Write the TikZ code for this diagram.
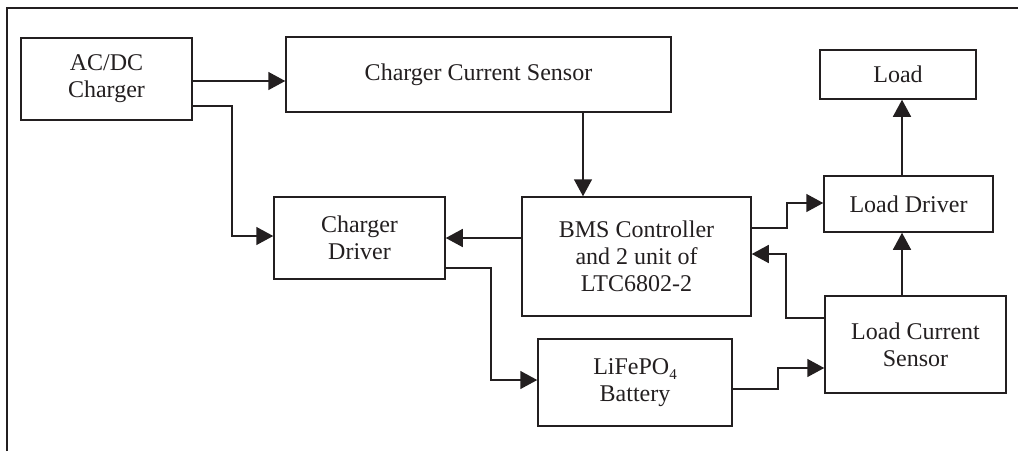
\documentclass[tikz,border=0pt]{standalone}
\usepackage{fontspec}
\setmainfont{Liberation Serif}
\usetikzlibrary{arrows.meta}
\definecolor{ink}{HTML}{231F20}
\tikzset{
  box/.style={draw=ink, line width=1.5pt, align=center, inner sep=0pt,
    font=\fontsize{24}{27}\selectfont, text=ink},
  arr/.style={draw=ink, line width=1.5pt, -{Triangle[length=17pt,width=18pt]}},
}
\begin{document}
\begin{tikzpicture}[x=1pt,y=-1pt]
\useasboundingbox (0,0) rectangle (1018,451);
\draw[ink, line width=1.8pt] (7,451) -- (7,8) -- (1018,8);
\node[box, minimum width=171pt, minimum height=82pt] (acdc) at (106.5,79) {AC/DC\\Charger};
\node[box, minimum width=385pt, minimum height=75pt] (ccs) at (478.5,74.5) {Charger Current Sensor};
\node[box, minimum width=156pt, minimum height=49pt] (load) at (898,74.5) {Load};
\node[box, minimum width=171pt, minimum height=82pt] (cd) at (359.5,238) {Charger\\Driver};
\node[box, minimum width=229pt, minimum height=119pt] (bms) at (636.5,256.5) {BMS Controller\\and 2 unit of\\LTC6802-2};
\node[box, minimum width=169pt, minimum height=56pt] (ld) at (908.5,204) {Load Driver};
\node[box, minimum width=194pt, minimum height=87pt] (bat) at (635,382.5) {LiFePO\raisebox{-5pt}{\fontsize{15}{15}\selectfont 4}\\Battery};
\node[box, minimum width=181pt, minimum height=97pt] (lcs) at (915.5,344.5) {Load Current\\Sensor};
\coordinate (k1) at (232,236);
\coordinate (k2) at (491,380);
\coordinate (k3) at (778,368);
\coordinate (k4) at (786,254);
\coordinate (k5) at (787,203);
\draw[arr] (acdc.east|-0,81) -- (ccs.west|-0,81);
\draw[arr] (acdc.east|-0,106) -| (k1) -- (cd.west|-k1);
\draw[arr] (ccs.south-|583,0) -- (bms.north-|583,0);
\draw[arr] (bms.west|-0,238) -- (cd.east|-0,238);
\draw[arr] (cd.east|-0,268) -| (k2) -- (bat.west|-k2);
\draw[arr] (bat.east|-0,389) -| (k3) -- (lcs.west|-k3);
\draw[arr] (lcs.west|-0,318) -| (k4) -- (bms.east|-k4);
\draw[arr] (bms.east|-0,228) -| (k5) -- (ld.west|-k5);
\draw[arr] (lcs.north-|902,0) -- (ld.south-|902,0);
\draw[arr] (ld.north-|902,0) -- (load.south-|902,0);
\end{tikzpicture}
\end{document}
